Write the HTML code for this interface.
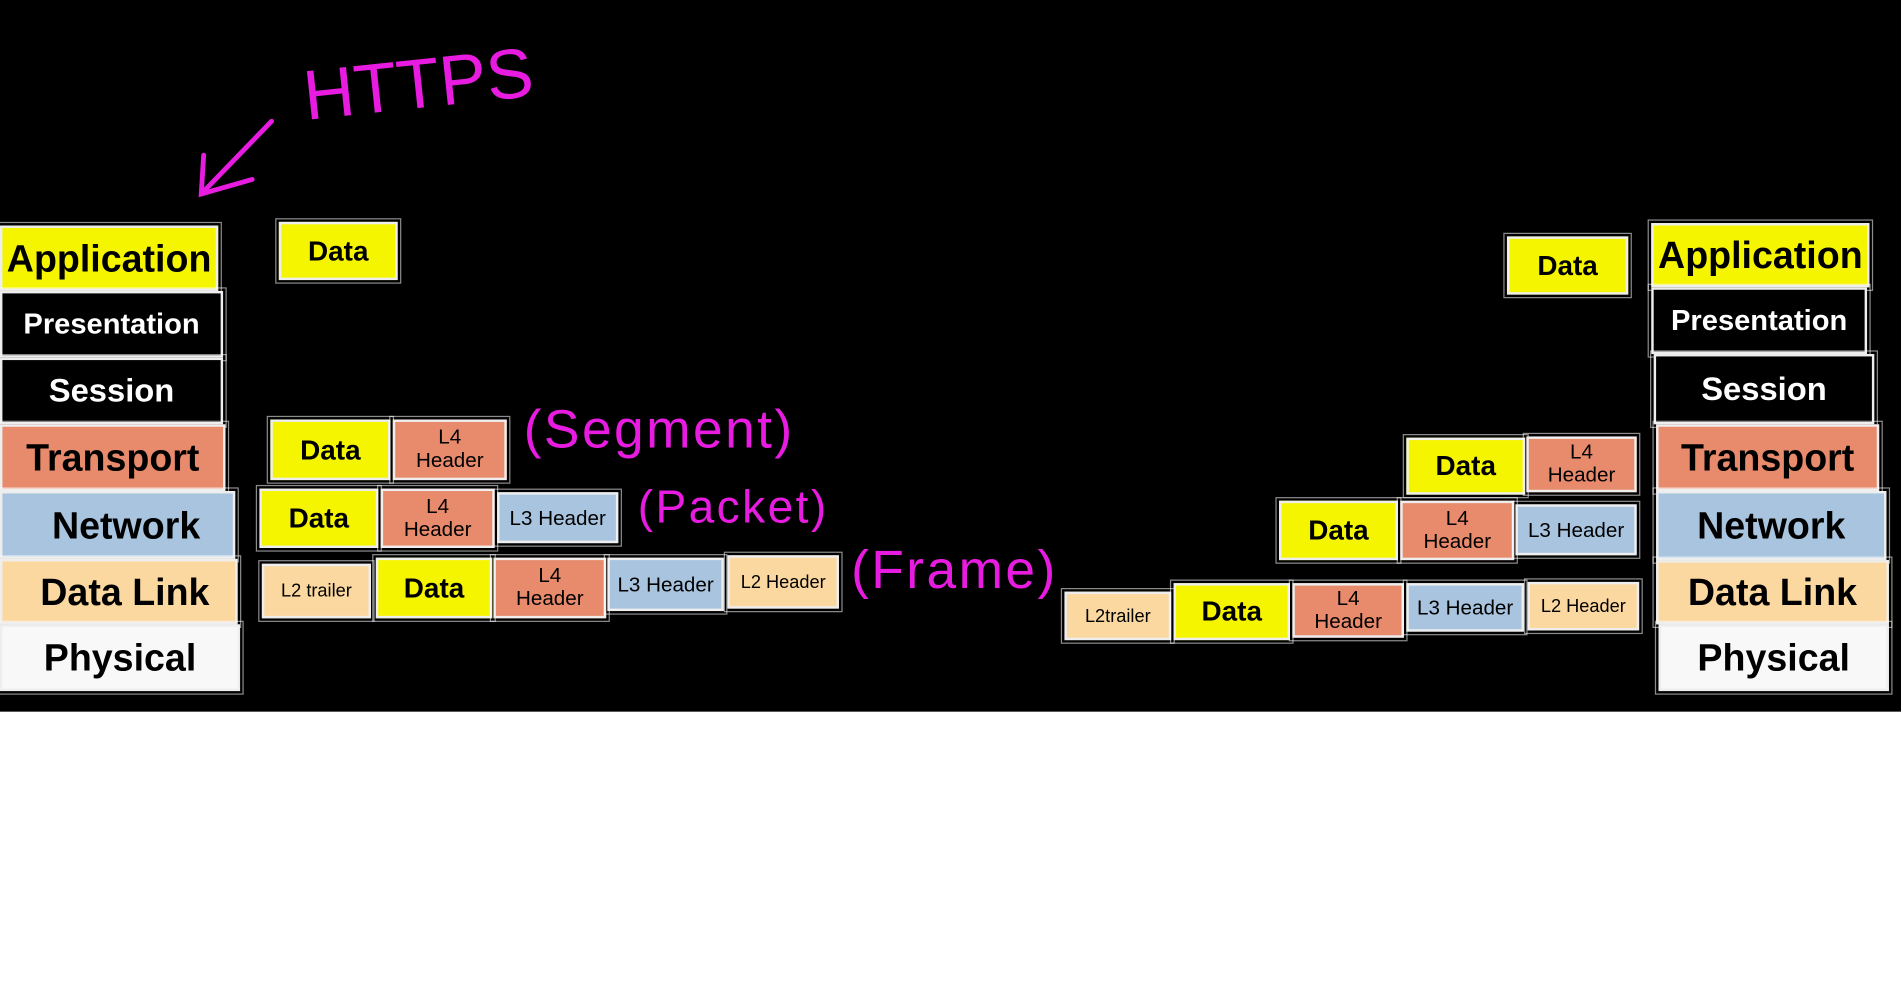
<!DOCTYPE html>
<html><head><meta charset="utf-8">
<style>
html,body{margin:0;padding:0;width:1901px;height:993px;background:#fff;overflow:hidden}
#s{position:absolute;left:0;top:0;width:1568px;height:819px;transform:scale(1.21237);transform-origin:0 0}
#bg{position:absolute;left:0;top:0;width:1568px;height:587px;background:#000}
.b{position:absolute;box-sizing:border-box;border:2px solid #eee;outline:1px solid rgba(255,255,255,.55);outline-offset:2px;display:flex;align-items:center;justify-content:center;text-align:center;font-family:"Liberation Sans Narrow","Liberation Sans",sans-serif;font-weight:bold;color:#000;line-height:1}
.y{background:#f6f500}.r{background:#e88a6c}.u{background:#a9c4de}.p{background:#fbd8a0}.w{background:#f8f8f8}.k{background:#000;color:#fff}
.L{font-size:31px}.s{font-size:24px}.m{font-size:17px;font-weight:normal}.t{font-size:15px;font-weight:normal}
.h{font-size:17px;font-weight:normal;line-height:1.1}
.mg{position:absolute;color:#e81ce0;font-family:"Liberation Sans",sans-serif;letter-spacing:2px}
</style></head><body><div id="s">
<div id="bg"></div>
<div class="b y L" style="left:0;top:186px;width:180px;height:54px">Application</div>
<div class="b k s" style="left:0;top:240px;width:184px;height:55px">Presentation</div>
<div class="b k s" style="left:0;top:295px;width:184px;height:55px;font-size:27px">Session</div>
<div class="b r L" style="left:0;top:350px;width:186px;height:55px">Transport</div>
<div class="b u L" style="left:0;top:405px;width:194px;height:56px;padding-left:14px">Network</div>
<div class="b p L" style="left:0;top:461px;width:196px;height:54px;padding-left:10px">Data Link</div>
<div class="b w L" style="left:0;top:515px;width:198px;height:55px">Physical</div>
<div class="b y L" style="left:1362px;top:184px;width:180px;height:53px">Application</div>
<div class="b k s" style="left:1362px;top:237px;width:178px;height:55px">Presentation</div>
<div class="b k s" style="left:1364px;top:292px;width:182px;height:58px;font-size:27px">Session</div>
<div class="b r L" style="left:1366px;top:350px;width:184px;height:55px">Transport</div>
<div class="b u L" style="left:1366px;top:405px;width:190px;height:57px">Network</div>
<div class="b p L" style="left:1366px;top:462px;width:192px;height:53px">Data Link</div>
<div class="b w L" style="left:1368px;top:515px;width:190px;height:55px">Physical</div>
<div class="b y s" style="left:230px;top:183px;width:98px;height:48px;font-size:23px">Data</div>
<div class="b y s" style="left:223px;top:346px;width:99px;height:50px;font-size:23px">Data</div>
<div class="b r h" style="left:324px;top:346px;width:94px;height:50px">L4<br>Header</div>
<div class="b y s" style="left:214px;top:403px;width:98px;height:49px;font-size:23px">Data</div>
<div class="b r h" style="left:314px;top:403px;width:94px;height:49px">L4<br>Header</div>
<div class="b u m" style="left:410px;top:406px;width:100px;height:42px">L3 Header</div>
<div class="b p t" style="left:216px;top:465px;width:90px;height:45px">L2 trailer</div>
<div class="b y s" style="left:310px;top:460px;width:96px;height:50px;font-size:23px">Data</div>
<div class="b r h" style="left:407px;top:460px;width:93px;height:50px">L4<br>Header</div>
<div class="b u m" style="left:501px;top:460px;width:96px;height:44px">L3 Header</div>
<div class="b p t" style="left:600px;top:458px;width:92px;height:44px">L2 Header</div>
<div class="b y s" style="left:1243px;top:195px;width:100px;height:48px;font-size:23px">Data</div>
<div class="b y s" style="left:1160px;top:361px;width:98px;height:47px;font-size:23px">Data</div>
<div class="b r h" style="left:1259px;top:360px;width:91px;height:46px">L4<br>Header</div>
<div class="b y s" style="left:1055px;top:413px;width:98px;height:49px;font-size:23px">Data</div>
<div class="b r h" style="left:1155px;top:413px;width:94px;height:49px">L4<br>Header</div>
<div class="b u m" style="left:1250px;top:416px;width:100px;height:42px">L3 Header</div>
<div class="b p t" style="left:878px;top:488px;width:88px;height:40px">L2trailer</div>
<div class="b y s" style="left:968px;top:481px;width:96px;height:47px;font-size:23px">Data</div>
<div class="b r h" style="left:1066px;top:481px;width:92px;height:45px">L4<br>Header</div>
<div class="b u m" style="left:1160px;top:481px;width:97px;height:40px">L3 Header</div>
<div class="b p t" style="left:1260px;top:480px;width:92px;height:40px">L2 Header</div>
<div class="mg" style="left:250px;top:36px;font-size:58px;letter-spacing:0;font-family:'Liberation Sans Narrow','Liberation Sans',sans-serif;transform:rotate(-6deg)">HTTPS</div>
<svg style="position:absolute;left:0;top:0" width="1568" height="600">
<g stroke="#e81ce0" stroke-width="4" fill="none" stroke-linecap="round">
<line x1="224" y1="100" x2="166" y2="160"/>
<polyline points="168,128 166,160 208,148"/>
</g></svg>
<div class="mg" style="left:432px;top:330px;font-size:44px">(Segment)</div>
<div class="mg" style="left:526px;top:398px;font-size:38px">(Packet)</div>
<div class="mg" style="left:702px;top:446px;font-size:44px">(Frame)</div>
</div></body></html>
